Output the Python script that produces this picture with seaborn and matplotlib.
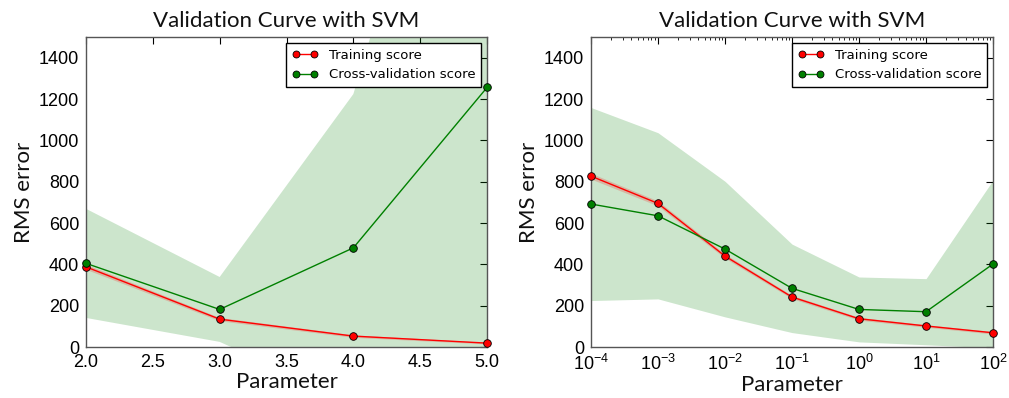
import numpy as np
import pandas as pd
import matplotlib
matplotlib.use("Agg")
import matplotlib.pyplot as plt
from matplotlib.lines import Line2D
import seaborn as sns

# ---- data ----
left_x = [2.0, 3.0, 4.0, 5.0]
left_train = [388, 135, 53, 19]
left_train_std = [12, 8, 6, 4]
left_cv = [405, 182, 480, 1256]
left_cv_std = [264, 157, 744, 2136]

right_x = [1e-4, 1e-3, 1e-2, 1e-1, 1e0, 1e1, 1e2]
right_train = [827, 695, 440, 242, 137, 102, 69]
right_train_std = [14, 12, 10, 8, 7, 6, 6]
right_cv = [692, 635, 474, 284, 182, 171, 402]
right_cv_std = [467, 402, 328, 214, 157, 160, 406]

left_xticks = [2.0, 2.5, 3.0, 3.5, 4.0, 4.5, 5.0]
yticks = [0, 200, 400, 600, 800, 1000, 1200, 1400]
series_names = ["Training score", "Cross-validation score"]
title = "Validation Curve with SVM"
xlabel = "Parameter"
ylabel = "RMS error"

sns.set_style("white")
plt.rcParams['font.family'] = ['Liberation Sans', 'DejaVu Sans']
plt.rcParams['mathtext.fontset'] = 'custom'
plt.rcParams['mathtext.rm'] = 'Liberation Sans'
plt.rcParams['mathtext.it'] = 'Liberation Sans'
plt.rcParams['text.color'] = 'k'
plt.rcParams['axes.labelcolor'] = 'k'
plt.rcParams['xtick.color'] = 'k'
plt.rcParams['ytick.color'] = 'k'

fig = plt.figure(figsize=(10.09, 3.98), dpi=100)
ax1 = fig.add_axes([0.0852, 0.128, 0.3975, 0.779])
ax2 = fig.add_axes([0.5857, 0.128, 0.3985, 0.779])

label_font = dict(family=['Lato', 'DejaVu Sans'], size=16, weight='normal', color='#111111')


def draw(ax, x, tr, trs, cv, cvs, logx):
    x = np.array(x); tr = np.array(tr); trs = np.array(trs)
    cv = np.array(cv); cvs = np.array(cvs)
    df = pd.DataFrame({"x": np.concatenate([x, x]),
                       "y": np.concatenate([tr, cv]),
                       "s": [series_names[0]] * len(x) + [series_names[1]] * len(x)})
    ax.fill_between(x, cv - cvs, cv + cvs, color='g', alpha=0.2, lw=0)
    ax.fill_between(x, tr - trs, tr + trs, color='r', alpha=0.2, lw=0)
    sns.lineplot(data=df, x="x", y="y", hue="s",
                 palette={series_names[0]: "r", series_names[1]: "g"},
                 marker='o', markersize=5.5, markeredgecolor='k', markeredgewidth=0.6,
                 linewidth=1, ax=ax, legend=False, zorder=3)
    for line in ax.lines:
        line.set_clip_on(False)
    if logx:
        ax.set_xscale('log')
    ax.set_xlim(x[0], x[-1])
    ax.set_ylim(0, 1500)
    ax.set_yticks(yticks)
    ax.set_title(title, fontdict=label_font, pad=7)
    ax.set_xlabel(xlabel, fontdict=label_font, labelpad=1)
    ax.set_ylabel(ylabel, fontdict=label_font, labelpad=3)
    ax.tick_params(axis='both', which='major', direction='in', top=True, right=True,
                   length=5, width=0.8, labelsize=13, pad=5, color='k')
    ax.tick_params(axis='both', which='minor', direction='in', top=True, right=True,
                   length=2.5, width=0.6, color='k')
    for sp in ax.spines.values():
        sp.set_color('#555555')
        sp.set_linewidth(1.0)
    handles = [Line2D([0], [0], color='r', marker='o', markersize=5, markeredgecolor='k',
                      markeredgewidth=0.6, lw=1),
               Line2D([0], [0], color='g', marker='o', markersize=5, markeredgecolor='k',
                      markeredgewidth=0.6, lw=1)]
    leg = ax.legend(handles, series_names, loc='upper right',
                    numpoints=2, frameon=True, fancybox=False, framealpha=1,
                    borderaxespad=0.45, handlelength=2.0, borderpad=0.45,
                    prop=dict(family=['DejaVu Sans'], size=9.5))
    leg.get_frame().set_edgecolor('k')
    leg.get_frame().set_facecolor('white')
    leg.get_frame().set_linewidth(1.0)


draw(ax1, left_x, left_train, left_train_std, left_cv, left_cv_std, False)
ax1.set_xticks(left_xticks)
ax1.set_xticklabels([f"{v:.1f}" for v in left_xticks])
draw(ax2, right_x, right_train, right_train_std, right_cv, right_cv_std, True)

fig.savefig("out.png", dpi=100)
